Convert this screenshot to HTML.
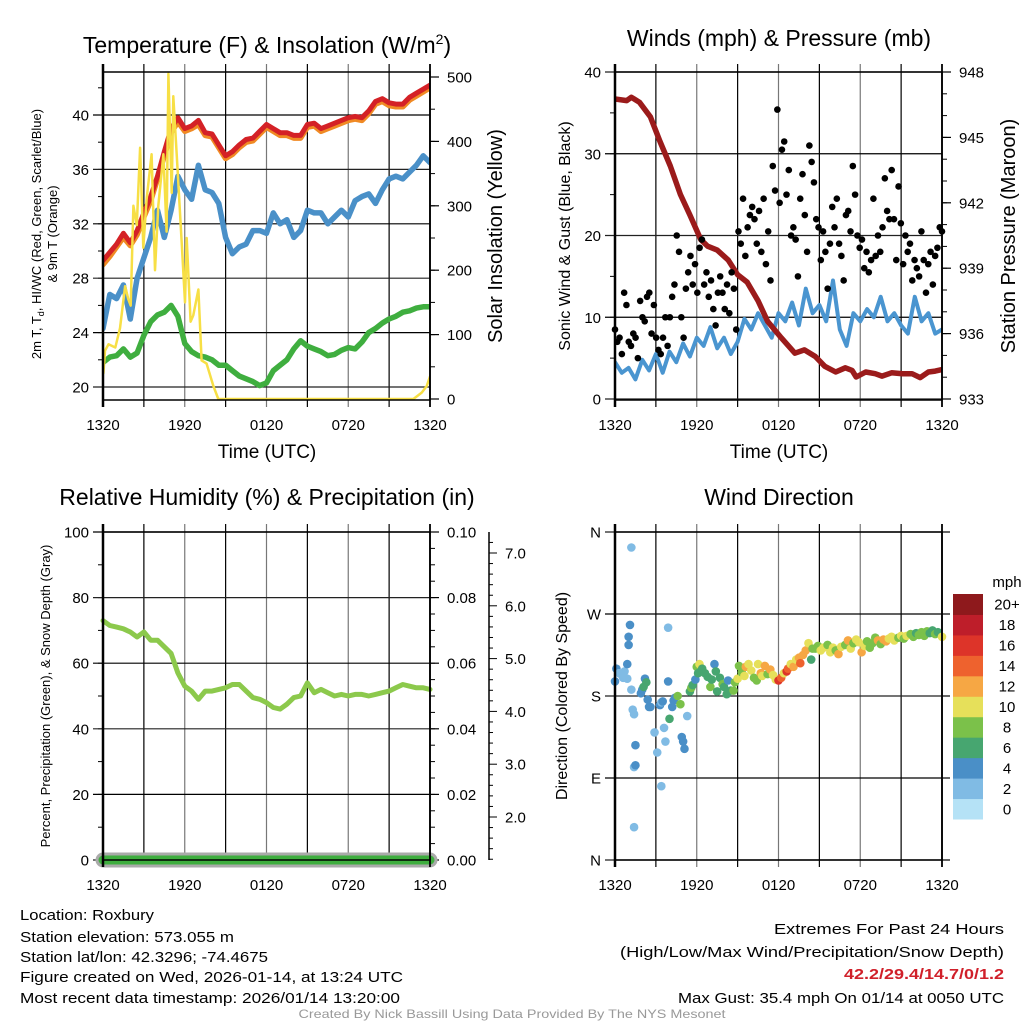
<!DOCTYPE html>
<html><head><meta charset="utf-8"><style>
html,body{margin:0;padding:0;background:#fff;}
svg{display:block;font-family:"Liberation Sans",sans-serif;}
</style></head><body>
<svg id="fig" width="1024" height="1024" viewBox="0 0 1024 1024" xmlns="http://www.w3.org/2000/svg">
<g font-size="23" text-anchor="middle" fill="#000">
<text x="267" y="53">Temperature (F) &amp; Insolation (W/m<tspan font-size="14" dy="-9">2</tspan><tspan dy="9">)</tspan></text>
<text x="779" y="46">Winds (mph) &amp; Pressure (mb)</text>
<text x="267" y="505">Relative Humidity (%) &amp; Precipitation (in)</text>
<text x="779" y="505">Wind Direction</text>
</g>
<g fill="#000" text-anchor="middle">
<text x="267" y="458" font-size="19">Time (UTC)</text>
<text x="779" y="458" font-size="19">Time (UTC)</text>
<text transform="translate(41,234) rotate(-90)" font-size="13">2m T, T<tspan font-size="9" dy="3">d</tspan><tspan dy="-3">, HI/WC (Red, Green, Scarlet/Blue)</tspan></text>
<text transform="translate(57,234) rotate(-90)" font-size="13">&amp; 9m T (Orange)</text>
<text transform="translate(502,236) rotate(-90)" font-size="20">Solar Insolation (Yellow)</text>
<text transform="translate(570,236) rotate(-90)" font-size="16">Sonic Wind &amp; Gust (Blue, Black)</text>
<text transform="translate(1015,236) rotate(-90)" font-size="20">Station Pressure (Maroon)</text>
<text transform="translate(50,696) rotate(-90)" font-size="13">Percent, Precipitation (Green), &amp; Snow Depth (Gray)</text>
<text transform="translate(567,696) rotate(-90)" font-size="16">Direction (Colored By Speed)</text>
</g>
<g font-size="14.5" fill="#000">
<text x="20" y="920" textLength="134" lengthAdjust="spacingAndGlyphs">Location: Roxbury</text>
<text x="20" y="942" textLength="214" lengthAdjust="spacingAndGlyphs">Station elevation: 573.055 m</text>
<text x="20" y="962" textLength="248" lengthAdjust="spacingAndGlyphs">Station lat/lon: 42.3296; -74.4675</text>
<text x="20" y="982" textLength="383" lengthAdjust="spacingAndGlyphs">Figure created on Wed, 2026-01-14, at 13:24 UTC</text>
<text x="20" y="1003" textLength="380" lengthAdjust="spacingAndGlyphs">Most recent data timestamp: 2026/01/14 13:20:00</text>
<g text-anchor="end">
<text x="1004" y="934" textLength="230" lengthAdjust="spacingAndGlyphs">Extremes For Past 24 Hours</text>
<text x="1004" y="957" textLength="384" lengthAdjust="spacingAndGlyphs">(High/Low/Max Wind/Precipitation/Snow Depth)</text>
<text x="1004" y="979" font-weight="bold" fill="#d0202a" textLength="160" lengthAdjust="spacingAndGlyphs">42.2/29.4/14.7/0/1.2</text>
<text x="1004" y="1003" textLength="326" lengthAdjust="spacingAndGlyphs">Max Gust: 35.4 mph On 01/14 at 0050 UTC</text>
</g>
<text x="512" y="1018" font-size="12" fill="#999" text-anchor="middle" textLength="427" lengthAdjust="spacingAndGlyphs">Created By Nick Bassill Using Data Provided By The NYS Mesonet</text>
</g>
</svg>
<script>
// ---------- data ----------
const xTickLabels = ["1320","1920","0120","0720","1320"];
const tempTicks = [20,24,28,32,36,40];
const insolTicks = [0,100,200,300,400,500];
const windTicks = [0,10,20,30,40];
const presTicks = [933,936,939,942,945,948];
const rhTicks = [0,20,40,60,80,100];
const precipTicks = ["0.00","0.02","0.04","0.06","0.08","0.10"];
const snowTicks = ["2.0","3.0","4.0","5.0","6.0","7.0"];
const dirTicks = ["N","E","S","W","N"];
const speedBins = ["0","2","4","6","8","10","12","14","16","18","20+"];
const speedColors = ["#b5e2f6","#80bbe4","#4a8fc7","#47a670","#7bc14a","#e6e05a","#f6a744","#ee622e","#dd3429","#be1e2a","#8e191c"];

// temps at 0.5 h steps
const tempRed = [29.3,29.9,30.5,31.3,30.6,31.5,32.8,34,35.5,37.3,39,39.8,39,39.2,39.6,38.7,38.6,37.8,37.0,37.3,37.8,38.2,38.3,38.8,39.3,39.0,38.7,38.7,38.5,38.5,39.3,39.4,39.0,39.2,39.4,39.6,39.8,39.9,39.8,40.3,41.0,41.2,40.9,40.8,40.8,41.3,41.6,41.9,42.2];
const tempOrange = [29.0,29.6,30.3,31.0,30.4,31.2,32.5,33.7,35.3,37.0,38.7,39.5,38.8,39.0,39.3,38.5,38.4,37.6,36.8,37.1,37.6,38.0,38.1,38.6,39.1,38.8,38.5,38.5,38.3,38.3,39.1,39.2,38.8,39.0,39.2,39.4,39.6,39.7,39.6,40.1,40.8,41.0,40.7,40.6,40.6,41.1,41.4,41.7,42.0];
const windChill = [24.3,26.8,26.5,27.5,25,28,29.5,31,33,31,33,35.5,34.5,33.8,36.3,34.5,34.3,33.5,31,29.8,30.3,30.5,31.5,31.5,31.3,32.8,32,32.3,31,31.5,33,32.8,32.8,32,32.5,33,32.5,33.7,34,34.2,33.5,34.5,35.3,35.5,35.3,35.8,36.3,37,36.5];
const dewPoint = [21.8,22.2,22.3,22.8,22.2,22.5,23.8,24.8,25.3,25.5,26,25.2,23.2,22.6,22.3,22.2,22.0,21.6,21.6,21.2,20.8,20.6,20.4,20.1,20.3,21.2,21.6,22,22.8,23.4,23,22.8,22.6,22.3,22.4,22.7,22.9,22.8,23.3,24,24.3,24.7,25,25.2,25.5,25.6,25.8,25.9,25.9];
const insolTimes = [0.03,0.15,0.4,0.9,1.25,1.62,1.86,2.03,2.23,2.48,2.72,2.96,3.2,3.57,3.82,4.06,4.43,4.67,4.8,5.04,5.16,5.41,5.78,6.02,6.14,6.43,6.63,7.0,7.24,7.6,8.1,8.46,22.78,23.39,23.76,24];
const insolValues = [40,75,85,80,110,175,155,145,300,270,390,235,310,380,200,300,380,260,505,320,470,380,240,150,250,120,130,170,60,55,20,0,0,10,20,35];

// winds
const windSustained = [4.5,3.2,3.8,2.4,4.8,3.5,5.5,3.2,5.8,4.5,6.8,5.2,7.5,6.5,8.8,6.2,7.5,5.5,7.0,9.8,8.5,10.5,9.0,7.5,10.5,9.5,11.8,9.0,13.5,10.5,11.5,9.5,14.5,8.5,6.5,10.5,9.5,11.0,10.0,12.5,9.5,10.5,9.0,8.0,12.5,9.5,10.5,8.0,8.5];
const windGust = [8.5,7,7.5,5.5,13,11.5,7,6.5,8,7.5,5,12,10,9.5,12.5,13,8,11.5,7.5,6,5.5,7.5,10,6.5,10,12.5,14,20,18,10,7.5,13.5,15.5,17.5,14,16.5,13,18.5,19.5,14,15.5,12.5,14.5,11,9,13,15,13,11,14,10.5,15.5,13.5,8.5,20.5,19,24.5,17.5,21,22.5,23.5,22,19,23,18,24.5,16.5,20.5,14.5,28.5,25.5,35.4,24,30.5,31.5,25,28,20,21,19.5,15,24.5,27.5,22.5,18,31,29,26.5,22,21,17,20.5,18,13.5,19,23.5,21,24.5,19,17.5,14.5,22.5,23,20.5,28.5,25,20,18.5,19.5,16,18,15.5,17,24.5,17.5,20,18,21,27,23,22,28,22,17,26,21.5,16.5,20,18,19,14.5,17,16,15,20.5,17,13,16.5,18,14,17.5,18.5,21,20.5];
const presTimes = [0,0.86,1.2,1.8,2.6,3.3,4.06,4.8,5.5,6.3,6.8,7.5,8.3,9.0,9.7,10.5,11.2,12.2,13.2,13.9,14.7,15.4,16.2,16.9,17.4,17.7,18.4,19.1,19.6,20.3,21.1,21.8,22.4,23.0,23.5,24];
const presValues = [946.76,946.69,946.84,946.61,945.94,944.81,943.69,942.38,941.44,940.31,940.01,939.83,939.38,938.70,938.36,937.5,936.56,935.81,935.1,935.25,934.95,934.5,934.24,934.43,934.31,934.01,934.24,934.16,934.05,934.2,934.16,934.16,933.98,934.24,934.28,934.35];

// humidity
const relHumidity = [73,71.5,71,70.5,69.5,68,69.5,67,67,65,63,57,53,51.5,49,51.5,51.5,52,52.5,53.5,53.5,51.5,49.5,49,48,46.5,46,47.5,49.5,50,54,51,52,51,50,50.5,50,50.5,50.5,50,50.5,51,51.5,52.5,53.5,53,52.5,52.5,52];
const precipValues = [0,0];

// wind direction
const dirTimes = [0,0.1,0.3,0.5,0.6,0.7,0.9,0.9,1.0,1.0,1.1,1.2,1.2,1.3,1.4,1.5,1.4,1.5,1.4,1.9,2.0,2.1,2.2,2.3,2.4,2.5,2.6,2.9,3.1,3.3,3.4,3.5,3.4,3.6,3.7,3.9,3.9,4.0,4.2,4.3,4.4,4.6,4.8,4.9,5.0,5.1,5.3,5.5,5.6,5.7,5.9,6.0,6.1,6.2,6.4,6.6,6.8,7.0,7.1,7.3,7.4,7.5,7.7,7.9,8.0,8.2,8.3,8.5,8.7,8.8,9.0,9.1,9.3,9.5,9.6,9.8,10.0,10.2,10.4,10.5,10.7,10.8,11.0,11.2,11.4,11.6,11.8,12.0,12.2,12.4,12.6,12.7,12.9,13.1,13.3,13.5,13.6,13.8,14.0,14.2,14.4,14.5,14.7,14.9,15.1,15.3,15.6,15.8,16.0,16.2,16.4,16.6,16.9,17.1,17.3,17.5,17.7,17.9,18.1,18.3,18.5,18.7,18.9,19.1,19.3,19.5,19.7,19.9,20.1,20.3,20.5,20.8,21.0,21.2,21.4,21.7,21.9,22.1,22.3,22.5,22.7,22.9,23.1,23.3,23.5,23.7,24.0];
const dirValues = [196,210,205,203,200,207,199,215,236,245,258,343,187,165,160,126,102,104,36,183,187,190,199,195,176,168,168,140,118,170,173,174,81,145,130,255,196,155,168,175,178,180,171,135,130,122,158,185,189,192,198,212,205,215,210,205,201,190,198,215,207,185,200,193,190,182,197,186,186,195,199,213,206,202,212,215,208,200,197,215,205,202,213,204,209,203,198,197,200,205,207,210,215,212,220,222,216,225,230,238,220,232,232,235,230,233,236,228,233,230,226,234,236,241,232,238,242,239,228,235,240,233,238,244,241,237,242,240,243,245,241,244,246,243,246,248,245,249,247,250,246,251,249,252,248,250,245];
const dirSpeeds = [4,4,3,2,2,3,2,4,4,4,4,2,2,2,2,4,2,4,2,4,5,6,4,6,4,4,4,2,2,4,2,4,2,2,2,2,4,6,4,4,5,8,8,4,4,4,2,6,8,6,4,8,6,10,6,6,6,8,6,4,6,6,6,8,6,6,4,6,8,8,10,8,8,10,12,10,10,8,8,10,12,10,12,8,12,10,10,16,14,10,16,14,10,12,10,12,14,12,12,10,6,8,8,8,10,10,8,10,10,8,12,10,8,12,10,8,10,10,12,10,8,8,8,8,12,8,12,12,10,10,10,8,10,8,10,8,8,6,8,8,8,8,6,6,8,6,10];

// ---------- helpers ----------
const NS = "http://www.w3.org/2000/svg";
const svg = document.getElementById("fig");
function mk(parent, tag, attrs, text){
  const e = document.createElementNS(NS, tag);
  for (const k in attrs) e.setAttribute(k, attrs[k]);
  if (text !== undefined) e.textContent = text;
  parent.appendChild(e);
  return e;
}
function group(name){
  const g = mk(svg, "g", {});
  
  
  return g;
}
const W = 327, H = 328;
function xAxisFn(x0){ return h => x0 + h * W / 24; }
function linAxis(y0, v0, y1, v1){ return v => y0 + (v - v0) * (y1 - y0) / (v1 - v0); }

function frame(g, x0, y0, name){
  // vertical grid lines every 3 h
  for (let i = 1; i < 8; i++){
    const x = x0 + i * W / 8;
    const l = mk(g, "line", {x1:x, x2:x, y1:y0-8, y2:y0+H+7, stroke: i%2 ? "#000" : "#777", "stroke-width":1.2});
    
    
  }
}
function border(g, x0, y0, name){
  const r = mk(g, "rect", {x:x0, y:y0, width:W, height:H, fill:"none", stroke:"#000", "stroke-width":1.5});
  
  
  const l1 = mk(g, "line", {x1:x0, x2:x0, y1:y0-8, y2:y0+H+7, stroke:"#000", "stroke-width":2.5});
  
  
  const l2 = mk(g, "line", {x1:x0+W, x2:x0+W, y1:y0-8, y2:y0+H+7, stroke:"#000", "stroke-width":1.8});
  
  
  xTickLabels.forEach((t, i) => {
    const tx = mk(g, "text", {x: x0 + i * W / 4, y: y0 + H + 30, "font-size": 15, "text-anchor":"middle"}, t);
    
    
  });
}
function leftTicks(g, x0, y0, fn, ticks, minorStep, lo, hi, labels, name, grid){
  for (let v = lo; v <= hi + 1e-9; v += minorStep){
    const y = fn(v);
    if (y < y0 - 0.5 || y > y0 + H + 0.5) continue;
    const t = mk(g, "line", {x1:x0-5, x2:x0, y1:y, y2:y, stroke:"#000", "stroke-width":1});
    
    
  }
  ticks.forEach((v, i) => {
    const y = fn(v);
    const t = mk(g, "line", {x1:x0-10, x2: grid ? x0+W : x0, y1:y, y2:y, stroke: i%2 ? "#000" : "#222", "stroke-width":1.2});
    
    
    const tx = mk(g, "text", {x:x0-14, y:y+5.5, "font-size":15, "text-anchor":"end"}, labels ? labels[i] : String(v));
    
    
  });
}
function rightTicks(g, x0, y0, fn, ticks, minorStep, lo, hi, labels, name){
  const xr = x0 + W;
  for (let v = lo; v <= hi + 1e-9; v += minorStep){
    const y = fn(v);
    if (y < y0 - 0.5 || y > y0 + H + 0.5) continue;
    const t = mk(g, "line", {x1:xr, x2:xr+5, y1:y, y2:y, stroke:"#000", "stroke-width":1});
    
    
  }
  ticks.forEach((v, i) => {
    const y = fn(v);
    const t = mk(g, "line", {x1:xr, x2:xr+9, y1:y, y2:y, stroke:"#000", "stroke-width":1.2});
    
    
    const tx = mk(g, "text", {x:xr+17, y:y+5.5, "font-size":15}, labels ? labels[i] : String(v));
    
    
  });
}
function pathFrom(times, vals, xf, yf){
  return vals.map((v, i) => (i ? "L" : "M") + xf(times[i]).toFixed(1) + "," + yf(v).toFixed(1)).join(" ");
}
function steps(n){ return Array.from({length:n}, (_, i) => i * 24 / (n - 1)); }
function clip(id, x0, y0){
  const defs = mk(svg, "defs", {});
  const cp = mk(defs, "clipPath", {id:id});
  mk(cp, "rect", {x:x0, y:y0, width:W, height:H});
}

// ---------- panel 1: temperature ----------
(function(){
  const x0 = 103, y0 = 72;
  const g = group("temperature-panel");
  const xf = xAxisFn(x0);
  const yT = linAxis(387, 20, 115, 40);
  const yI = linAxis(399, 0, 77, 500);
  clip("c1", x0, y0);
  frame(g, x0, y0, "temp");
  leftTicks(g, x0, y0, yT, tempTicks, 2, 18, 44, null, "temp", true);
  rightTicks(g, x0, y0, yI, insolTicks, 50, 0, 500, null, "insolation");
  const lg = mk(g, "g", {"clip-path":"url(#c1)", fill:"none", "stroke-linejoin":"round", "stroke-linecap":"round"});
  const s1 = mk(lg, "path", {d: pathFrom(steps(windChill.length), windChill, xf, yT), stroke:"#4a90c8", "stroke-width":5.5});
  
  
  const s2 = mk(lg, "path", {d: pathFrom(steps(dewPoint.length), dewPoint, xf, yT), stroke:"#3fae3f", "stroke-width":5.5});
  
  
  const s3 = mk(lg, "path", {d: pathFrom(steps(tempOrange.length), tempOrange, xf, yT), stroke:"#f08a24", "stroke-width":5.5});
  
  
  const s4 = mk(lg, "path", {d: pathFrom(steps(tempRed.length), tempRed, xf, yT), stroke:"#d42126", "stroke-width":5});
  
  
  const s5 = mk(lg, "path", {d: pathFrom(insolTimes, insolValues, xf, yI), stroke:"#f7df45", "stroke-width":2.5});
  
  
  border(g, x0, y0, "temp");
})();

// ---------- panel 2: winds ----------
(function(){
  const x0 = 615, y0 = 72;
  const g = group("winds-panel");
  const xf = xAxisFn(x0);
  const yW = linAxis(399, 0, 72, 40);
  const yP = linAxis(399, 933, 72, 948);
  clip("c2", x0, y0);
  frame(g, x0, y0, "winds");
  leftTicks(g, x0, y0, yW, windTicks, 5, 0, 40, null, "wind", true);
  rightTicks(g, x0, y0, yP, presTicks, 1, 933, 948, null, "pressure");
  const lg = mk(g, "g", {"clip-path":"url(#c2)", fill:"none", "stroke-linejoin":"round", "stroke-linecap":"round"});
  const s1 = mk(lg, "path", {d: pathFrom(steps(windSustained.length), windSustained, xf, yW), stroke:"#4a95d0", "stroke-width":4});
  
  
  const gt = steps(windGust.length);
  windGust.forEach((v, i) => {
    const c = mk(g, "circle", {cx: xf(gt[i]), cy: yW(v), r: 3.3, fill:"#000"});
    
    
  });
  const s2 = mk(lg, "path", {d: pathFrom(presTimes, presValues, xf, yP), stroke:"#9b1b1b", "stroke-width":5.5});
  
  
  border(g, x0, y0, "winds");
})();

// ---------- panel 3: humidity ----------
(function(){
  const x0 = 103, y0 = 532;
  const g = group("humidity-panel");
  const xf = xAxisFn(x0);
  const yH = linAxis(860, 0, 532, 100);
  const ySnow = linAxis(817, 2, 553, 7);
  clip("c3", x0, y0 - 10);
  frame(g, x0, y0, "humidity");
  leftTicks(g, x0, y0, yH, rhTicks, 10, 0, 100, null, "humidity", true);
  rightTicks(g, x0, y0, yH, rhTicks, 5, 0, 100, precipTicks, "precip");
  // snow depth axis
  const ax = mk(g, "line", {x1:489, x2:489, y1:532, y2:860, stroke:"#000", "stroke-width":1.5});
  
  
  for (let v = 1.2; v <= 7.4001; v += 0.2){
    const y = ySnow(v);
    if (y < 532 || y > 860) continue;
    const major = Math.abs(v - Math.round(v)) < 0.01;
    const t = mk(g, "line", {x1:489, x2: major ? 497 : 493, y1:y, y2:y, stroke:"#000", "stroke-width":1});
    
    
  }
  snowTicks.forEach(s => {
    const t = mk(g, "text", {x:505, y: ySnow(parseFloat(s)) + 5.5, "font-size":15}, s);
    
    
  });
  const pr = mk(g, "path", {d: pathFrom([0,24], precipValues, xf, v => yH(0)), stroke:"#aaa", "stroke-width":15, "stroke-linecap":"round", fill:"none"});
  
  
  const pr2 = mk(g, "path", {d: pathFrom([0,24], precipValues, xf, v => yH(v)), stroke:"#3fae3f", "stroke-width":9, "stroke-linecap":"round", fill:"none"});
  
  
  const s1 = mk(g, "path", {d: pathFrom(steps(relHumidity.length), relHumidity, xf, yH), stroke:"#8cc94c", "stroke-width":5, fill:"none", "stroke-linejoin":"round", "stroke-linecap":"round"});
  
  
  border(g, x0, y0, "humidity");
})();

// ---------- panel 4: wind direction ----------
(function(){
  const x0 = 615, y0 = 532;
  const g = group("wind-direction-panel");
  const xf = xAxisFn(x0);
  const yD = linAxis(860, 0, 532, 360);
  frame(g, x0, y0, "direction");
  leftTicks(g, x0, y0, yD, [0,90,180,270,360], 90, 0, 360, dirTicks, "direction", true);
  // extend gridlines past right edge
  [0,90,180,270,360].forEach(v => {
    const l = mk(g, "line", {x1:x0+W, x2:x0+W+8, y1:yD(v), y2:yD(v), stroke:"#000", "stroke-width":1.2});
    
    
  });
  dirValues.forEach((d, i) => {
    const bin = Math.min(10, Math.floor(dirSpeeds[i] / 2));
    const c = mk(g, "circle", {cx: xf(dirTimes[i]), cy: yD(d), r: 4.3, fill: speedColors[bin]});
    
    
  });
  border(g, x0, y0, "direction");
  // colorbar
  const cb = group("speed-colorbar");
  const bh = 225 / speedBins.length;
  speedBins.forEach((lab, i) => {
    const y = 819 - (i + 1) * bh;
    const r = mk(cb, "rect", {x:953, y:y, width:30, height:bh + 0.5, fill: speedColors[i]});
    
    
    const t = mk(cb, "text", {x:1007, y:y + bh/2 + 5.5, "font-size":15, "text-anchor":"middle"}, lab);
    
    
  });
  const u = mk(cb, "text", {x:1007, y:587, "font-size":15, "text-anchor":"middle"}, "mph");
  
  
})();
</script>
</body></html>
